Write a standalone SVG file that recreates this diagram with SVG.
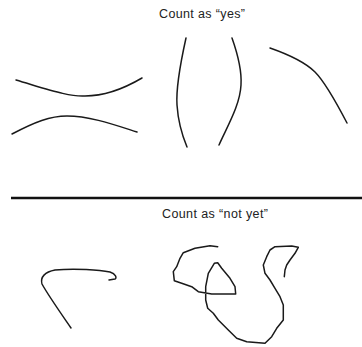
<svg xmlns="http://www.w3.org/2000/svg" width="362" height="347" viewBox="0 0 362 347">
<style>
.s{fill:none;stroke:#1a1a1a;stroke-width:1.5;stroke-linecap:round;stroke-linejoin:round}
.t{font-family:"Liberation Sans",Arial,sans-serif;font-size:12.5px;fill:#222}
</style>
<rect width="362" height="347" fill="#fff"/>
<text class="t" x="159" y="18" textLength="86" lengthAdjust="spacing">Count as “yes”</text>
<path class="s" d="M16,80 C50,90 70,97 85,96 C105,96 125,88 142,78"/>
<path class="s" d="M12,134 C35,122 50,116 67,116 C90,116 115,125 137,132"/>
<path class="s" d="M186,38 C180,65 176,90 177,105 C178,120 182,135 187,147"/>
<path class="s" d="M232,38 C238,55 242,70 241,85 C240,105 228,125 219,145"/>
<path class="s" d="M270,48 C290,55 305,62 315,72 C325,82 335,100 347,123"/>
<line x1="11" y1="198" x2="362" y2="198" stroke="#111" stroke-width="2.5"/>
<text class="t" x="162" y="218" textLength="106" lengthAdjust="spacing">Count as “not yet”</text>
<path class="s" d="M71,328 C60,312 48,295 42,284 C40,277 45,272 55,270 C75,268 100,270 110,272 C116,274 117,278 115,279 L109,280"/>
<polyline class="s" points="217.7,246.7 210,245.7 195,248.3 183.3,252.7 180,258.3 176.7,266.7 173.3,271.7 174.3,280.7 181.7,283.3 191.7,286.7 198.3,291.7 211.7,294 235.7,294 235,286.7 230,278.3 221.7,268.3 217.7,262.7 214.3,263.3 208.3,273.3 205.7,286.7 205.7,300 207.7,308.3 213.3,313.3 218.3,320 228.3,330 236.7,338.3 246.7,341.7 265,343.3 271.7,336.7 276.7,328.3 283.3,320 283.3,305 280,296.7 275,288.3 270,280 265,273.3 263.3,265 266.7,256.7 270,250 275,246.7 291.7,246 298.3,247.3 295,253.3 290,260 286.7,265 285,270 284.3,276.7"/>
</svg>
